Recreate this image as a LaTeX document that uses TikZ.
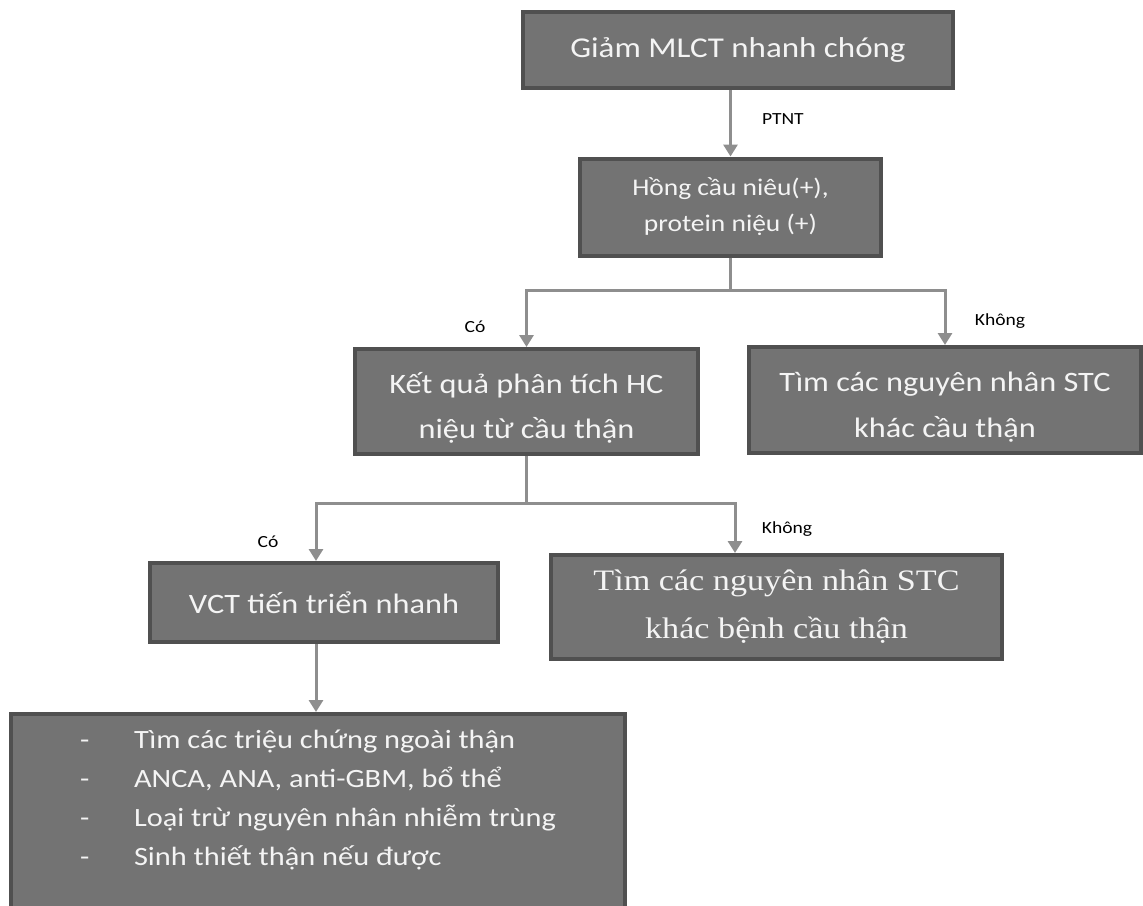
\documentclass[tikz,border=0pt]{standalone}
\usepackage{fontspec}
\setmainfont{Carlito}[FakeStretch=1.15]
\newfontfamily\timesvn{Liberation Serif}[FakeStretch=1.15]
\usetikzlibrary{arrows.meta}

\definecolor{boxfill}{HTML}{737373}
\definecolor{boxline}{HTML}{505050}
\definecolor{boxtext}{HTML}{F4F4F4}
\definecolor{arrowgray}{HTML}{8E8E8E}

\newcommand{\dashitem}[1]{\makebox[54pt][l]{-}#1}

\begin{document}
\begin{tikzpicture}[x=1pt,y=-1pt,
    box/.style={draw=boxline, line width=4pt, fill=boxfill, text=boxtext, align=center, inner sep=0pt},
    conn/.style={draw=arrowgray, line width=3pt},
    arr/.style={conn, -{Triangle[width=14pt,length=12pt]}},
    lbl/.style={font=\fontsize{17}{20}\selectfont, text=black, inner sep=0pt}]
    \useasboundingbox (0,0) rectangle (1143,905);

    % boxes
    \node[box, minimum width=430, minimum height=76, font=\fontsize{28.7}{34}\selectfont] (giam) at (738,50) {Giảm MLCT nhanh chóng};
    \node[box, minimum width=301, minimum height=97, font=\fontsize{23.9}{36}\selectfont] (hongcau) at (730.5,207) {Hồng cầu niêu(+),\\protein niệu (+)};
    \node[box, minimum width=343, minimum height=105, font=\fontsize{28.1}{45}\selectfont] (ketqua) at (526.5,401.5) {\rule{0pt}{33pt}Kết quả phân tích HC\\niệu từ cầu thận};
    \node[box, minimum width=392, minimum height=106, font=\fontsize{28.1}{46}\selectfont] (timstc) at (945,400) {\rule{0pt}{33pt}Tìm các nguyên nhân STC\\khác cầu thận};
    \node[box, minimum width=348, minimum height=79, font=\fontsize{28.1}{34}\selectfont] (vct) at (324,602.5) {VCT tiến triển nhanh};
    \node[box, minimum width=451, minimum height=104, font=\timesvn\fontsize{29.7}{48}\selectfont] (timbenh) at (776.5,607) {Tìm các nguyên nhân STC\\khác bệnh cầu thận};
    \node[box, anchor=north, minimum width=614, inner ysep=16pt, align=left,
        font=\fontsize{26.4}{39}\selectfont] (xetnghiem) at (318,712) {%
        \dashitem{Tìm các triệu chứng ngoài thận}\\
        \dashitem{ANCA, ANA, anti-GBM, bổ thể}\\
        \dashitem{Loại trừ nguyên nhân nhiễm trùng}\\
        \dashitem{Sinh thiết thận nếu được}\rule[-45pt]{0pt}{1pt}};

    % labels
    \node[lbl] (co1) at (475,327) {Có};
    \node[lbl] (khong1) at (1000,321) {Không};
    \node[lbl] (co2) at (268,542) {Có};
    \node[lbl] (khong2) at (787,529) {Không};

    % connectors
    \draw[arr] (giam.south -| hongcau.north) -- node[lbl, right=30pt, yshift=4pt] (ptnt) {PTNT} (hongcau.north);
    \draw[conn] (hongcau.south) -- ++(0,33) coordinate (tach1);
    \draw[arr] (tach1) -| (ketqua.north);
    \draw[arr] (tach1) -| (timstc.north);
    \draw[conn] (ketqua.south) -- ++(0,47) coordinate (tach2);
    \draw[arr] (tach2) -| ([xshift=-8pt]vct.north);
    \draw[arr] (tach2) -| ([xshift=-41.5pt]timbenh.north);
    \draw[arr] ([xshift=-8pt]vct.south) -- ([xshift=-2pt]xetnghiem.north);
\end{tikzpicture}
\end{document}
